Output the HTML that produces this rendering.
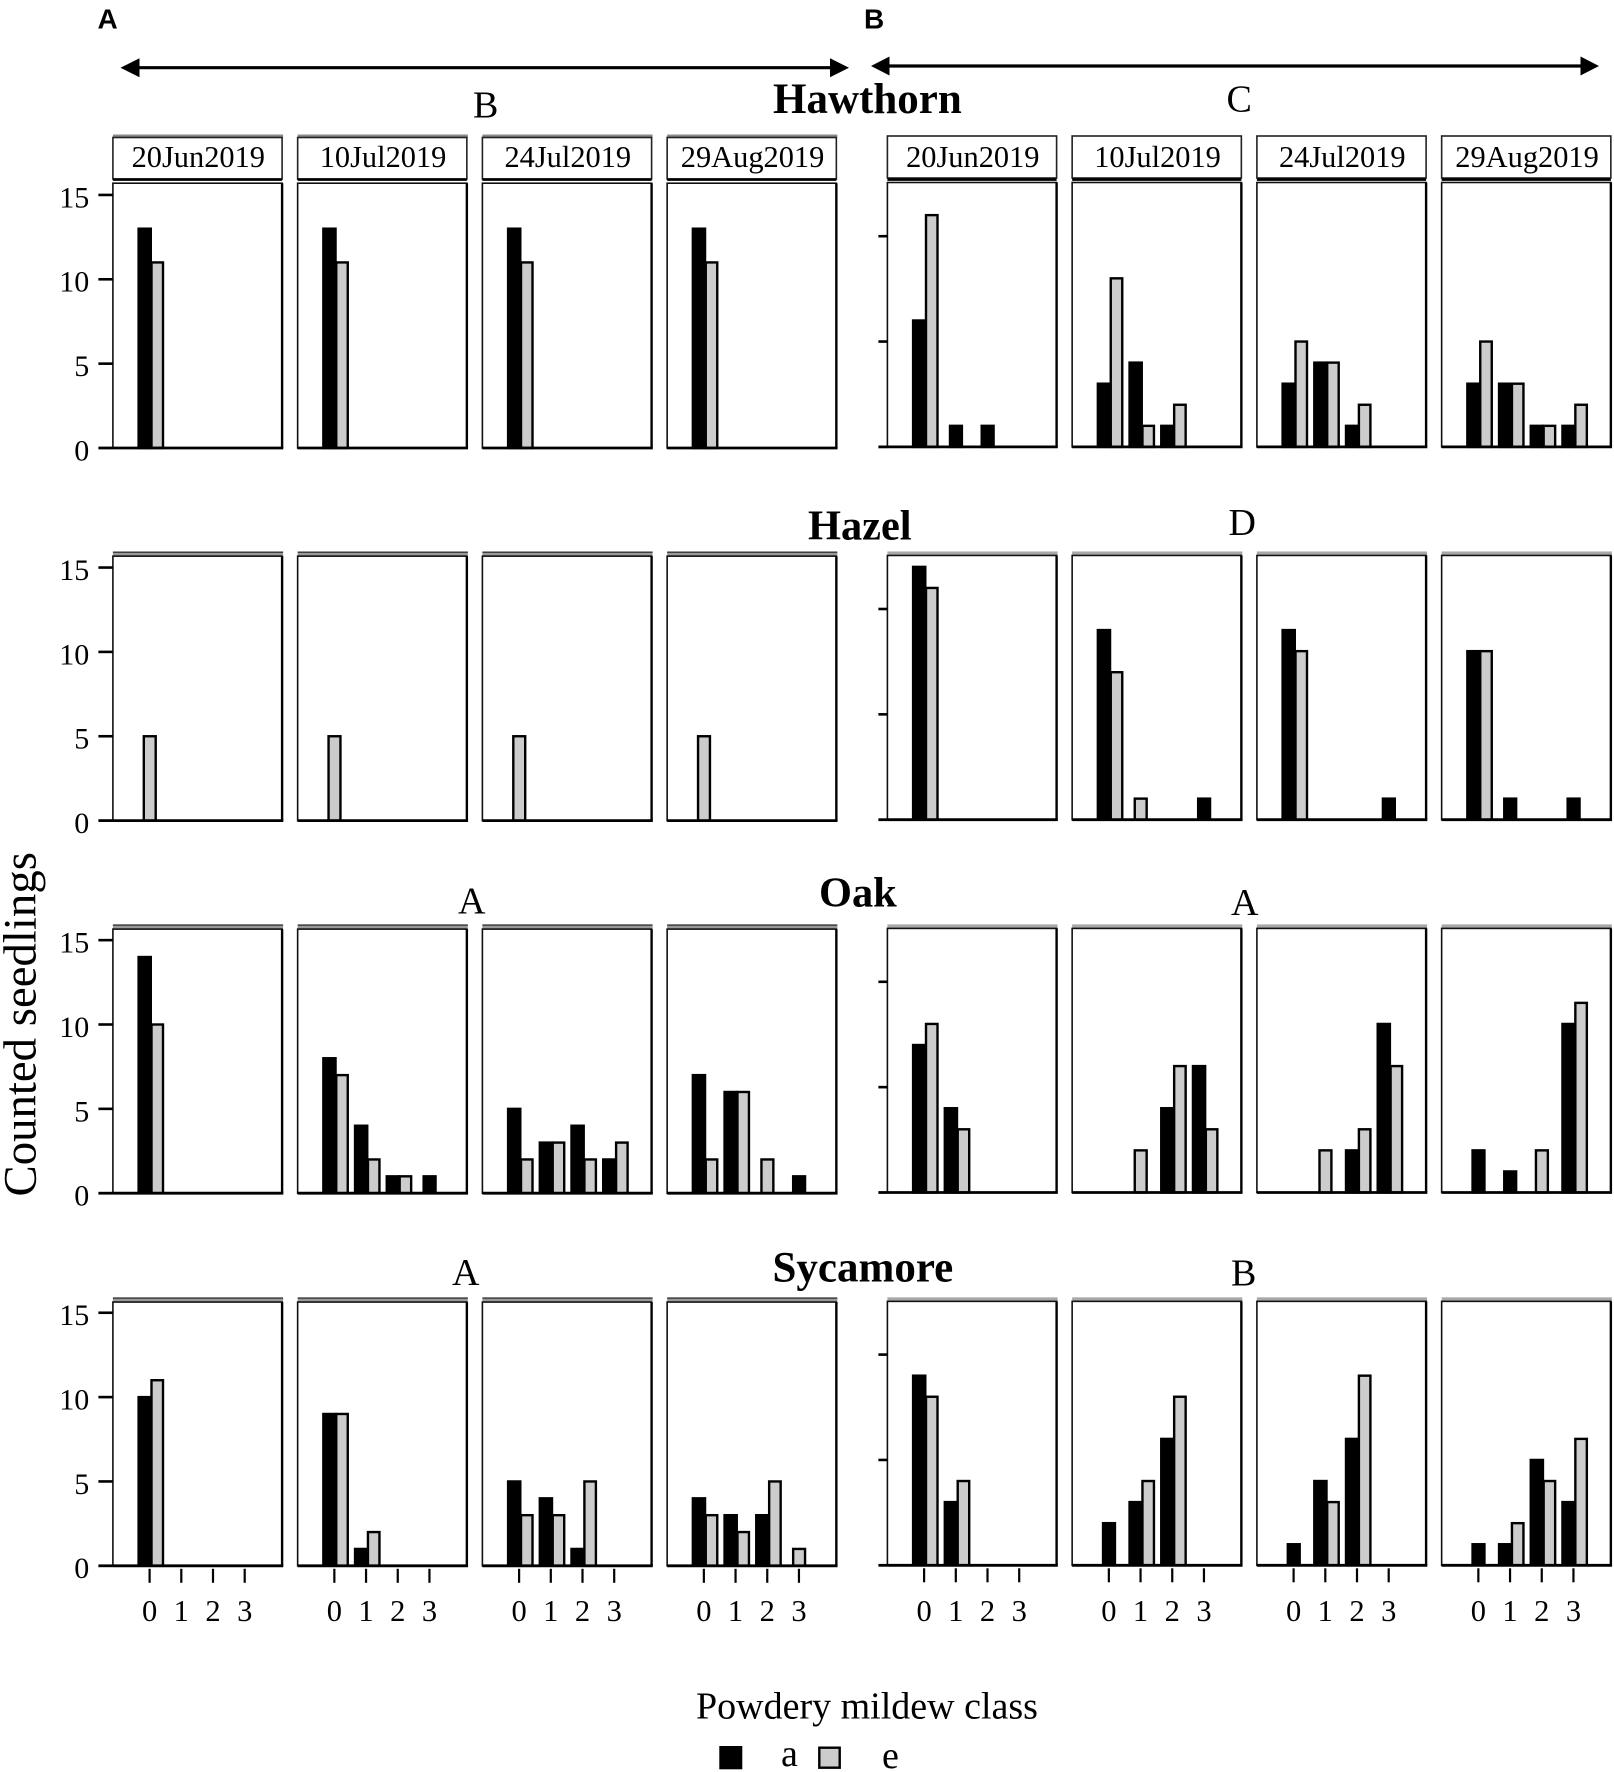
<!DOCTYPE html>
<html lang="en">
<head>
<meta charset="utf-8">
<title>Counted seedlings by powdery mildew class</title>
<style>
html,body{margin:0;padding:0;background:#fff;}
svg{display:block;}
text{font-family:"Liberation Serif",serif;fill:#000;}
.sans{font-family:"Liberation Sans",sans-serif;font-weight:bold;}
.spp{font-weight:bold;}
.let{font-size:38px;}
</style>
</head>
<body>
<svg id="chart" xmlns="http://www.w3.org/2000/svg" width="1614" height="1772" viewBox="0 0 1614 1772">
  <rect x="0" y="0" width="1614" height="1772" fill="#fff"/>
  <text class="sans" x="97.5" y="28.7" font-size="28">A</text>
  <text class="sans" x="864" y="28.4" font-size="28">B</text>

  <g>
    <line x1="135" y1="67.7" x2="835" y2="67.7" stroke="#000" stroke-width="3.2"/>
    <polygon points="120.5,67.7 139.5,58.2 139.5,77.2" fill="#000"/>
    <polygon points="849,67.7 830,58.2 830,77.2" fill="#000"/>
  </g>
  <g>
    <line x1="885" y1="66" x2="1585" y2="66" stroke="#000" stroke-width="3.2"/>
    <polygon points="871,66 889.5,56.5 889.5,75.5" fill="#000"/>
    <polygon points="1599,66 1580.5,56.5 1580.5,75.5" fill="#000"/>
  </g>

  <text class="spp" x="773" y="113" font-size="43">Hawthorn</text>
  <text class="spp" x="808" y="539.3" font-size="42.4">Hazel</text>
  <text class="spp" x="819" y="906.7" font-size="42.4">Oak</text>
  <text class="spp" x="772.5" y="1281.5" font-size="43">Sycamore</text>

  <text class="let" x="473" y="117.3">B</text>
  <text class="let" x="1226.5" y="111.7">C</text>
  <text class="let" x="1228.5" y="535">D</text>
  <text class="let" x="458" y="913.3">A</text>
  <text class="let" x="1231" y="915">A</text>
  <text class="let" x="452" y="1285">A</text>
  <text class="let" x="1231" y="1285.5">B</text>

  <text transform="translate(35.5,1196.5) rotate(-90)" font-size="46.8">Counted seedlings</text>
  <text x="696" y="1718.3" font-size="38">Powdery mildew class</text>

  <rect x="719.3" y="1746" width="23" height="23.3" fill="#000"/>
  <text x="781" y="1766" font-size="38">a</text>
  <rect x="819.3" y="1747.7" width="20.4" height="20" fill="#ccc" stroke="#000" stroke-width="2.4"/>
  <text x="882" y="1768" font-size="38">e</text>
</svg>
<script>
// ---- chart data: categories, tick labels, series (counts per mildew class 0,1,2,3) ----
const dates = ["20Jun2019", "10Jul2019", "24Jul2019", "29Aug2019"];
const classes = ["0", "1", "2", "3"];
const speciesNames = ["hawthorn", "hazel", "oak", "sycamore"];
const sectionNames = ["a", "b"];
const yTicksA = [0, 5, 10, 15];
const yTicksB = [0, 5, 10];

const hawthornSectionA_a = [[13,0,0,0],[13,0,0,0],[13,0,0,0],[13,0,0,0]];
const hawthornSectionA_e = [[11,0,0,0],[11,0,0,0],[11,0,0,0],[11,0,0,0]];
const hazelSectionA_a = [[0,0,0,0],[0,0,0,0],[0,0,0,0],[0,0,0,0]];
const hazelSectionA_e = [[5,0,0,0],[5,0,0,0],[5,0,0,0],[5,0,0,0]];
const oakSectionA_a = [[14,0,0,0],[8,4,1,1],[5,3,4,2],[7,6,0,1]];
const oakSectionA_e = [[10,0,0,0],[7,2,1,0],[2,3,2,3],[2,6,2,0]];
const sycamoreSectionA_a = [[10,0,0,0],[9,1,0,0],[5,4,1,0],[4,3,3,0]];
const sycamoreSectionA_e = [[11,0,0,0],[9,2,0,0],[3,3,5,0],[3,2,5,1]];

const hawthornSectionB_a = [[6,1,1,0],[3,4,1,0],[3,4,1,0],[3,3,1,1]];
const hawthornSectionB_e = [[11,0,0,0],[8,1,2,0],[5,4,2,0],[5,3,1,2]];
const hazelSectionB_a = [[12,0,0,0],[9,0,0,1],[9,0,0,1],[8,1,0,1]];
const hazelSectionB_e = [[11,0,0,0],[7,1,0,0],[8,0,0,0],[8,0,0,0]];
const oakSectionB_a = [[7,4,0,0],[0,0,4,6],[0,0,2,8],[2,1,0,8]];
const oakSectionB_e = [[8,3,0,0],[0,2,6,3],[0,2,3,6],[0,0,2,9]];
const sycamoreSectionB_a = [[9,3,0,0],[2,3,6,0],[1,4,6,0],[1,1,5,3]];
const sycamoreSectionB_e = [[8,4,0,0],[0,4,8,0],[0,3,9,0],[0,2,4,6]];

const seriesA_a = [hawthornSectionA_a, hazelSectionA_a, oakSectionA_a, sycamoreSectionA_a];
const seriesA_e = [hawthornSectionA_e, hazelSectionA_e, oakSectionA_e, sycamoreSectionA_e];
const seriesB_a = [hawthornSectionB_a, hazelSectionB_a, oakSectionB_a, sycamoreSectionB_a];
const seriesB_e = [hawthornSectionB_e, hazelSectionB_e, oakSectionB_e, sycamoreSectionB_e];

// ---- axis functions ----
function panelLeft(section, col) { return (section === 0 ? 112.9 : 887.4) + col * 184.75; }
function panelWidth() { return 169.2; }
function panelTop(section, row) { return (section === 0 ? 183.2 : 182.5) + row * 372.95; }
function baseline(section, row) { return (section === 0 ? 448 : 446.9) + row * (section === 0 ? 372.6 : 372.8); }
function xScale(section, col, cat) { return panelLeft(section, col) + 36.7 + cat * 31.7; }
function yScale(section, row, value) { return baseline(section, row) - value * (section === 0 ? 16.87 : 21.07); }

const svg = document.getElementById('chart');
const NS = 'http://www.w3.org/2000/svg';
function mk(tag, attrs, parent) {
  const el = document.createElementNS(NS, tag);
  for (const k in attrs) el.setAttribute(k, attrs[k]);
  (parent || svg).appendChild(el);
  return el;
}

function drawBar(g, section, row, col, cat, value, kind, paired) {
  const c = xScale(section, col, cat);
  let x0, x1;
  if (!paired) { x0 = c - 7; x1 = c + 7.3; }
  else if (kind === 'a') { x0 = c - 12.2; x1 = c + 2.4; }
  else { x0 = c + 0.7; x1 = c + 14.6; }
  const top = yScale(section, row, value);
  const el = mk('rect', {
    x: x0 + 1.2, y: top, width: x1 - x0 - 2.4, height: baseline(section, row) - top,
    fill: kind === 'a' ? '#000' : '#ccc', stroke: '#000', 'stroke-width': 2.4
  }, g);
  
  
}

sectionNames.forEach(function (sectionName, s) {
  const dataA = s === 0 ? seriesA_a : seriesB_a;
  const dataE = s === 0 ? seriesA_e : seriesB_e;
  speciesNames.forEach(function (species, r) {
    dates.forEach(function (date, c) {
      const g = mk('g', {});
      
      
      const L = panelLeft(s, c), W = panelWidth(), T = panelTop(s, r), B = baseline(s, r);

      // strip
      if (r === 0) {
        if (s === 0) {
          const band = mk('rect', { x: L, y: 134.5, width: W + 1, height: 3, fill: '#8a8a8a' }, g);
          
          
        }
        const box = mk('rect', { x: L, y: s === 0 ? 137.5 : 136, width: W, height: s === 0 ? 41.5 : 42, fill: '#fff', stroke: '#222', 'stroke-width': 1.6 }, g);
        
        
        const under = mk('line', { x1: L, x2: L + W, y1: 179.6, y2: 179.6, stroke: '#000', 'stroke-width': 2.6 }, g);
        
        
        const label = mk('text', { x: L + W / 2 + 0.8, y: 167, 'text-anchor': 'middle', 'font-size': 30.4 }, g);
        label.textContent = date;
        
        
      } else {
        const band = mk('rect', { x: L, y: T - 4, width: W + 1, height: 3.4, fill: s === 0 ? '#9a9a9a' : '#a8a8a8' }, g);
        
        
        if (s === 0) {
          const edge = mk('line', { x1: L, x2: L + W + 1, y1: T - 4, y2: T - 4, stroke: '#333', 'stroke-width': 1.4 }, g);
          
          
        }
      }

      // panel frame
      const frame = mk('rect', { x: L, y: T, width: W, height: B - T, fill: '#fff', stroke: '#111', 'stroke-width': 1.6 }, g);
      
      
      const rightEdge = mk('line', { x1: L + W, x2: L + W, y1: T, y2: B, stroke: '#000', 'stroke-width': 2.4 }, g);
      
      

      // bars
      classes.forEach(function (cls, k) {
        const a = dataA[r][c][k], e = dataE[r][c][k];
        const paired = a > 0 && e > 0;
        if (a > 0) drawBar(g, s, r, c, k, a, 'a', paired);
        if (e > 0) drawBar(g, s, r, c, k, e, 'e', paired);
      });

      // baseline
      const base = mk('line', { x1: L, x2: L + W + 1.2, y1: B, y2: B, stroke: '#000', 'stroke-width': 2.8 }, g);
      
      

      // y ticks on first column
      if (c === 0) {
        const ticks = s === 0 ? yTicksA : yTicksB;
        ticks.forEach(function (t) {
          const y = yScale(s, r, t);
          const tick = mk('line', { x1: L - (s === 0 ? 14.5 : 9), x2: L, y1: y, y2: y, stroke: '#000', 'stroke-width': t === 0 ? 2.8 : 2.6 }, g);
          
          
          if (s === 0) {
            const lab = mk('text', { x: 89.3, y: y + 12.4, 'text-anchor': 'end', 'font-size': 30 }, g);
            lab.textContent = String(t);
            
            
          }
        });
      }

      // x ticks on bottom row
      if (r === speciesNames.length - 1) {
        classes.forEach(function (cls, k) {
          const x = xScale(s, c, k);
          const tick = mk('line', { x1: x, x2: x, y1: B + 3, y2: B + 17, stroke: '#000', 'stroke-width': 2.2 }, g);
          
          
          const lab = mk('text', { x: x, y: 1621, 'text-anchor': 'middle', 'font-size': 30.5 }, g);
          lab.textContent = cls;
          
          
        });
      }
    });
  });
});
</script>
</body>
</html>
